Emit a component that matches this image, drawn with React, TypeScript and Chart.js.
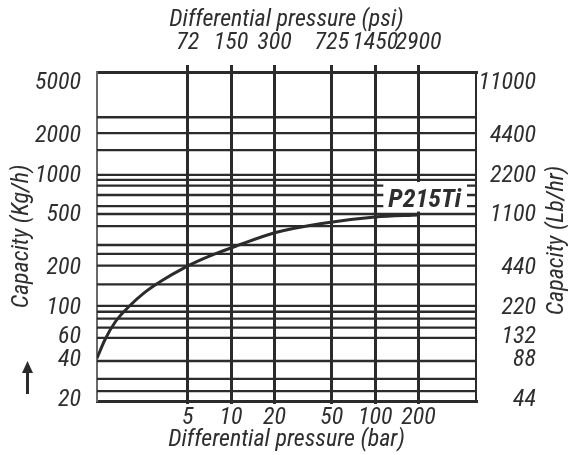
import React, { useEffect, useRef } from "react";
import { Chart, registerables } from "chart.js";

Chart.register(...registerables);

// ---- data ----
const pressureBar = [1.174, 1.33, 1.57, 1.94, 2.53, 3.3, 4.66, 6.26, 7.74, 10.65, 20.7, 42.6, 100, 199];
const capacityKgH = [41.3, 56.8, 77.8, 101, 131, 160, 198.5, 231.5, 255, 290.5, 372, 434, 486, 503];
const seriesLabel = "P215Ti";

const barTicks = [5, 10, 20, 50, 100, 200];
const barTickLabels = ["5", "10", "20", "50", "100", "200"];
const psiTickLabels = ["72", "150", "300", "725", "1450", "2900"];

const kgTicks = [20, 40, 60, 100, 200, 500, 1000, 2000, 5000];
const lbTicks = [44, 88, 132, 220, 440, 1100, 2200, 4400, 11000];

const capacityGridLines = [
  2770, 2100, 1560, 1015, 930, 840, 713, 588, 512, 415, 298, 255, 208, 150, 103, 93, 82.4, 70.4, 59, 39.4, 28.8, 23.3,
];

const xMin = 1.174;
const xMax = 501;
const yMin = 19.6;
const yMax = 6100;
const KG_TO_LB = 2.2;

const FONT = "'Roboto Condensed', 'Liberation Sans', sans-serif";
const LINE = "#2b2b2b";
const TEXT = "#2e2e2e";
const FS = 24;

const f = (size: number) => ({ family: FONT, size, style: "italic" as const, lineHeight: 1 });

const overlayPlugin = {
  id: "overlay",
  beforeDatasetsDraw(chart: any) {
    const { ctx, chartArea, scales } = chart;
    ctx.save();
    ctx.strokeStyle = LINE;
    ctx.lineWidth = 2.3;
    for (const v of capacityGridLines) {
      const y = scales.y.getPixelForValue(v);
      ctx.beginPath();
      ctx.moveTo(chartArea.left, y);
      ctx.lineTo(chartArea.right, y);
      ctx.stroke();
    }
    ctx.restore();
  },
  afterDatasetsDraw(chart: any) {
    const { ctx, chartArea } = chart;
    const meta = chart.getDatasetMeta(0);
    const last = meta.data[meta.data.length - 1];
    if (!last) return;
    ctx.save();
    ctx.font = `italic bold 26px ${FONT}`;
    const w = ctx.measureText(seriesLabel).width;
    const textRight = chartArea.right - 15;
    const baseY = last.y - 8;
    const boxLeft = textRight - w - 5;
    ctx.fillStyle = "#ffffff";
    ctx.fillRect(boxLeft, last.y - 33, chartArea.right - 9 - boxLeft, 29.5);
    ctx.fillStyle = TEXT;
    ctx.textAlign = "right";
    ctx.textBaseline = "alphabetic";
    ctx.fillText(seriesLabel, textRight, baseY);
    ctx.restore();
  },
  afterDraw(chart: any) {
    const { ctx, chartArea } = chart;
    ctx.save();
    // right axis title (reads bottom to top)
    ctx.translate(chart.width - 11.5, (chartArea.top + chartArea.bottom) / 2 + 4);
    ctx.rotate(-Math.PI / 2);
    ctx.font = `italic ${FS}px ${FONT}`;
    ctx.fillStyle = TEXT;
    ctx.textAlign = "center";
    ctx.textBaseline = "middle";
    ctx.fillText("Capacity (Lb/hr)", 0, 0);
    ctx.restore();

    // up arrow
    ctx.save();
    const ax = 27.5;
    const tip = chartArea.bottom - 40;
    const base = chartArea.bottom - 7;
    ctx.fillStyle = LINE;
    ctx.fillRect(ax - 1.5, tip + 10, 3, base - tip - 10);
    ctx.beginPath();
    ctx.moveTo(ax, tip);
    ctx.lineTo(ax - 5.5, tip + 12);
    ctx.lineTo(ax + 5.5, tip + 12);
    ctx.closePath();
    ctx.fill();
    ctx.restore();
  },
};

export default function App() {
  const ref = useRef<HTMLCanvasElement | null>(null);

  useEffect(() => {
    if (!ref.current) return;
    const chart = new Chart(ref.current, {
      type: "line",
      data: {
        datasets: [
          {
            label: seriesLabel,
            data: pressureBar.map((x, i) => ({ x, y: capacityKgH[i] })),
            borderColor: LINE,
            borderWidth: 3,
            pointRadius: 0,
            fill: false,
            cubicInterpolationMode: "monotone",
            xAxisID: "x",
            yAxisID: "y",
          },
        ],
      },
      options: {
        animation: false,
        responsive: false,
        devicePixelRatio: 1,
        layout: { padding: { left: 0, right: 32, top: 0, bottom: 0 } },
        plugins: { legend: { display: false }, tooltip: { enabled: false } },
        scales: {
          x: {
            type: "logarithmic",
            position: "bottom",
            min: xMin,
            max: xMax,
            afterBuildTicks: (s: any) => {
              s.ticks = barTicks.map((v) => ({ value: v }));
            },
            afterFit: (s: any) => {
              s.height = 54;
            },
            ticks: {
              callback: (_v: any, i: number) => barTickLabels[i],
              font: f(FS),
              color: TEXT,
              padding: 1.5,
              maxRotation: 0,
              autoSkip: false,
            },
            grid: { display: true, drawOnChartArea: true, drawTicks: true, tickLength: 3, lineWidth: 3, color: LINE },
            border: { display: true, width: 3, color: LINE },
            title: {
              display: true,
              text: "Differential pressure (bar)",
              font: f(FS),
              color: TEXT,
              padding: { top: 0, bottom: 3 },
            },
          },
          x2: {
            type: "logarithmic",
            position: "top",
            min: xMin,
            max: xMax,
            afterBuildTicks: (s: any) => {
              s.ticks = barTicks.map((v) => ({ value: v }));
            },
            afterFit: (s: any) => {
              s.height = 72;
            },
            ticks: {
              callback: (_v: any, i: number) => psiTickLabels[i],
              font: f(FS),
              color: TEXT,
              padding: 10,
              maxRotation: 0,
              autoSkip: false,
            },
            grid: { display: true, drawOnChartArea: false, drawTicks: true, tickLength: 7, lineWidth: 3, color: LINE },
            border: { display: true, width: 3, color: LINE },
            title: {
              display: true,
              text: "Differential pressure (psi)",
              font: f(FS),
              color: TEXT,
              padding: { top: 8, bottom: 0 },
            },
          },
          y: {
            type: "logarithmic",
            position: "left",
            min: yMin,
            max: yMax,
            afterBuildTicks: (s: any) => {
              s.ticks = kgTicks.map((v) => ({ value: v }));
            },
            afterFit: (s: any) => {
              s.width = 97;
            },
            ticks: {
              callback: (v: any) => String(v),
              font: f(FS),
              color: TEXT,
              padding: 16,
              autoSkip: false,
            },
            grid: { display: false, drawTicks: false },
            border: { display: true, width: 2, color: "#6a6a6a" },
            title: {
              display: true,
              text: "Capacity (Kg/h)",
              font: f(FS),
              color: TEXT,
              padding: { top: 10, bottom: 0 },
            },
          },
          y2: {
            type: "logarithmic",
            position: "right",
            min: yMin * KG_TO_LB,
            max: yMax * KG_TO_LB,
            afterBuildTicks: (s: any) => {
              s.ticks = lbTicks.map((v) => ({ value: v }));
            },
            afterFit: (s: any) => {
              s.width = 60;
            },
            ticks: {
              callback: (v: any) => String(v),
              font: f(FS),
              color: TEXT,
              padding: 0,
              crossAlign: "far",
              autoSkip: false,
            },
            grid: { display: false, drawTicks: false },
            border: { display: true, width: 2, color: LINE },
          },
        },
      },
      plugins: [overlayPlugin],
    } as any);
    return () => chart.destroy();
  }, []);

  return (
    <div style={{ position: "fixed", left: 0, top: 0, width: 568, height: 455, background: "#fff" }}>
      <canvas ref={ref} width={568} height={455} />
    </div>
  );
}
